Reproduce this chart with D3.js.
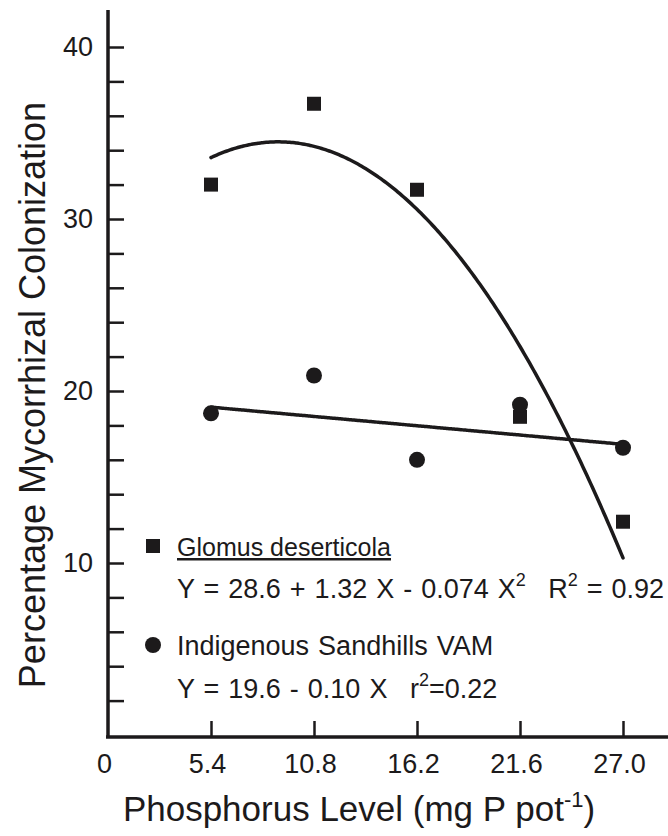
<!DOCTYPE html>
<html>
<head>
<meta charset="utf-8">
<script src="https://cdn.jsdelivr.net/npm/d3@7"></script>
<style>
  html, body { margin: 0; padding: 0; background: #fff; }
  svg { display: block; font-family: "Liberation Sans", Arial, Helvetica, sans-serif; }
</style>
</head>
<body>
<svg id="chart" width="668" height="836"></svg>
<script>
// Phosphorus levels applied (mg P per pot)
const phosphorus = [5.4, 10.8, 16.2, 21.6, 27.0];
// Mean colonization (%) for each inoculum
const glomusColonization = [32.0, 36.7, 31.7, 18.5, 12.4];
const indigenousColonization = [18.7, 20.9, 16.0, 19.2, 16.7];
// Regression coefficients: Y = a + bX + cX^2
const glomusFit = [28.6, 1.32, -0.074];
const indigenousFit = [19.6, -0.10, 0];
// Axis ticks
const xTickValues = [0, 5.4, 10.8, 16.2, 21.6, 27.0];
const xTickLabels = ["0", "5.4", "10.8", "16.2", "21.6", "27.0"];
const yTickValues = [2, 4, 6, 8, 10, 12, 14, 16, 18, 20, 22, 24, 26, 28, 30, 32, 34, 36, 38, 40];
const yLabelValues = [10, 20, 30, 40];

const ink = "#1c1a1b";
const svg = d3.select("#chart");

const x = d3.scaleLinear().domain([0, 27]).range([108, 623]);
const y = d3.scaleLinear().domain([0, 40]).range([735, 47]);

// Axis frame
svg.append("line").attr("x1", 108).attr("x2", 108).attr("y1", 10).attr("y2", 738)
  .attr("stroke", ink).attr("stroke-width", 3.5);
svg.append("line").attr("x1", 106).attr("x2", 668).attr("y1", 737).attr("y2", 737)
  .attr("stroke", ink).attr("stroke-width", 3.5);

// Y axis: inward ticks, labels every 10
const yAxis = d3.axisLeft(y)
  .tickValues(yTickValues)
  .tickSizeInner(-16).tickSizeOuter(0).tickPadding(15)
  .tickFormat(d => yLabelValues.includes(d) ? String(d) : "");
const gy = svg.append("g").attr("transform", "translate(108,0)").call(yAxis);
gy.select(".domain").remove();
gy.selectAll(".tick line").attr("stroke", ink).attr("stroke-width", 2.5);
gy.selectAll(".tick text").attr("fill", ink).attr("font-size", 27)
  .attr("font-family", "Liberation Sans, Arial, sans-serif");

// X axis: inward ticks
const xAxis = d3.axisBottom(x)
  .tickValues(xTickValues)
  .tickSizeInner(-16).tickSizeOuter(0).tickPadding(17)
  .tickFormat((d, i) => xTickLabels[i]);
const gx = svg.append("g").attr("transform", "translate(0,737)").call(xAxis);
gx.select(".domain").remove();
gx.selectAll(".tick line").attr("stroke", ink).attr("stroke-width", 2.5)
  .attr("opacity", d => d === 0 ? 0 : 1);
gx.selectAll(".tick text").attr("fill", ink).attr("font-size", 27).attr("dx", -4)
  .attr("font-family", "Liberation Sans, Arial, sans-serif");

// Fitted regression curves
function fitCurve(coef) {
  const pts = d3.range(phosphorus[0], phosphorus[phosphorus.length - 1] + 0.001, 0.1)
    .map(v => [v, coef[0] + coef[1] * v + coef[2] * v * v]);
  return d3.line().x(d => x(d[0])).y(d => y(d[1])).curve(d3.curveBasis)(pts);
}
svg.append("path").attr("d", fitCurve(glomusFit))
  .attr("fill", "none").attr("stroke", ink).attr("stroke-width", 3.5).attr("stroke-linecap", "round");
svg.append("path").attr("d", fitCurve(indigenousFit))
  .attr("fill", "none").attr("stroke", ink).attr("stroke-width", 3.5).attr("stroke-linecap", "round");

// Observed means
const sq = 14;
svg.append("g").selectAll("rect").data(phosphorus).join("rect")
  .attr("x", (d) => x(d) - sq / 2)
  .attr("y", (d, i) => y(glomusColonization[i]) - sq / 2)
  .attr("width", sq).attr("height", sq).attr("fill", ink);
svg.append("g").selectAll("circle").data(phosphorus).join("circle")
  .attr("cx", d => x(d))
  .attr("cy", (d, i) => y(indigenousColonization[i]))
  .attr("r", 8).attr("fill", ink);

// Legend
const legend = svg.append("g").attr("fill", ink).attr("font-size", 27).attr("word-spacing", 1.5);
legend.append("rect").attr("x", 146).attr("y", 539).attr("width", 14).attr("height", 14);
legend.append("text").attr("x", 177).attr("y", 556).attr("font-size", 25).attr("word-spacing", 0)
  .attr("text-decoration", "underline").text("Glomus deserticola");
const eq1 = legend.append("text").attr("x", 177).attr("y", 598);
eq1.append("tspan").text("Y = 28.6 + 1.32 X - 0.074 X");
eq1.append("tspan").attr("font-size", 18).attr("dy", -12).text("2");
eq1.append("tspan").attr("dy", 12).text("\u2002 R");
eq1.append("tspan").attr("font-size", 18).attr("dy", -12).text("2");
eq1.append("tspan").attr("dy", 12).text(" = 0.92");

legend.append("circle").attr("cx", 153).attr("cy", 645).attr("r", 8);
legend.append("text").attr("x", 177).attr("y", 655).text("Indigenous Sandhills VAM");
const eq2 = legend.append("text").attr("x", 177).attr("y", 698);
eq2.append("tspan").text("Y = 19.6 - 0.10 X\u2002 r");
eq2.append("tspan").attr("font-size", 18).attr("dy", -12).text("2");
eq2.append("tspan").attr("dy", 12).text("=0.22");

// Axis titles
const xt = svg.append("text").attr("x", 359).attr("y", 821).attr("text-anchor", "middle")
  .attr("fill", ink).attr("font-size", 35);
xt.append("tspan").text("Phosphorus Level (mg P pot");
xt.append("tspan").attr("font-size", 22).attr("dy", -14).text("-1");
xt.append("tspan").attr("dy", 14).text(")");

svg.append("text").attr("transform", "translate(45,395) rotate(-90)")
  .attr("text-anchor", "middle").attr("fill", ink).attr("font-size", 36)
  .text("Percentage Mycorrhizal Colonization");
</script>
</body>
</html>
